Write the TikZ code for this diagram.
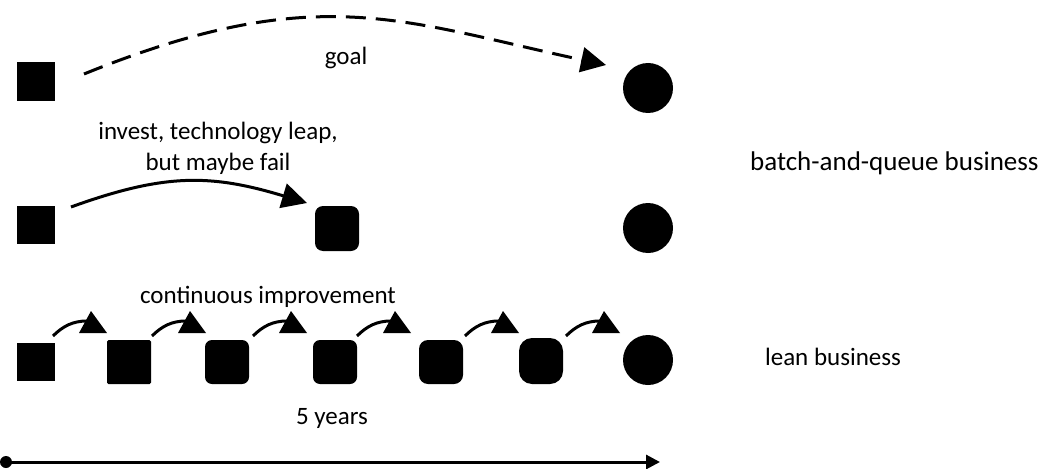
\documentclass[tikz,border=0pt]{standalone}
\usepackage{fontspec}
\setmainfont{Carlito}
\usetikzlibrary{arrows.meta}
\begin{document}
\begin{tikzpicture}[x=1pt,y=-1pt,
  blk/.style={fill=black,draw=none,inner sep=0pt,outer sep=0pt},
  sq/.style={blk,rectangle,minimum width=38pt,minimum height=38pt},
  rsq/.style={blk,rectangle,minimum width=44pt,minimum height=44pt,rounded corners=#1},
  goalc/.style={blk,circle,minimum size=50pt},
  lbl/.style={font=\fontsize{25}{30}\selectfont,inner sep=0pt},
  bigtip/.style={-{Triangle[length=25pt,width=25pt]}},
  conn/.style={line width=3pt},
  liftarrow/.pic={
    \draw[conn] (0,0) .. controls (10,-10) and (20,-15) .. (34,-15);
    \fill (26,-3) -- (54,-3) -- (38,-25) -- cycle;
  }]
\useasboundingbox (0,0) rectangle (1064,468);

% row 1: the goal
\node[sq,minimum height=39pt] (s1) at (36,81.5) {};
\node[goalc] (c1) at (648,88) {};
\coordinate (s1out) at (84,74);
\coordinate (c1in) at (606,65);
\draw[conn,bigtip,dash pattern=on 20pt off 10pt] (s1out) .. controls (316,-20) and (401,21) .. (c1in);
\node[lbl] (goal) at (346,58) {goal};

% row 2: technology leap
\node[lbl,align=center] (leap) at (218,148) {invest, technology leap,\\[1pt]but maybe fail};
\node[lbl,anchor=west,font=\fontsize{27}{32}\selectfont] (bq) at (750,163) {batch-and-queue business};
\node[sq] (s2) at (36,225) {};
\node[rsq=8pt,minimum height=45pt] (r2) at (337,228.5) {};
\node[goalc] (c2) at (648,228) {};
\coordinate (s2out) at (71,207);
\coordinate (r2in) at (307,203);
\draw[conn,bigtip] (s2out) .. controls (165,173) and (211,174) .. (r2in);

% row 3: continuous improvement
\node[lbl] (ci) at (268,297) {continuous improvement};
\node[sq] (q1) at (36,362) {};
\node[rsq=1.5pt] (q2) at (129,362) {};
\node[rsq=7pt] (q3) at (227,362) {};
\node[rsq=7pt] (q4) at (335,362) {};
\node[rsq=9pt] (q5) at (441,362) {};
\node[rsq=13pt,minimum height=46pt] (q6) at (541,361) {};
\node[goalc] (c3) at (648,360) {};
\node[lbl] (lean) at (833,357) {lean business};
\foreach \s in {53,152,253,357,465,566}
  \pic at (\s,336) {liftarrow};

% time line
\node[blk,circle,minimum size=12pt] (t0) at (6,462) {};
\coordinate (t1) at (660,462);
\draw[conn,-{Triangle[length=14pt,width=14pt]}] (t0.center) -- (t1);
\node[lbl] (yrs) at (332,418) {5 years};
\end{tikzpicture}
\end{document}
